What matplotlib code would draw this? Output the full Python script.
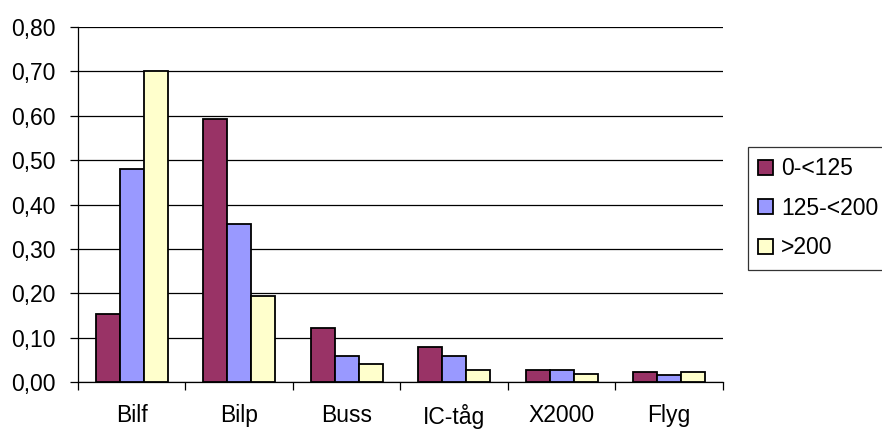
import matplotlib.pyplot as plt
import numpy as np

plt.rcParams['font.family'] = ['Liberation Sans', 'DejaVu Sans']

categories = ["Bilf", "Bilp", "Buss", "IC-tåg", "X2000", "Flyg"]
series_names = ["0-<125", "125-<200", ">200"]
v_low = [0.153, 0.593, 0.121, 0.080, 0.027, 0.022]
v_mid = [0.480, 0.355, 0.058, 0.058, 0.027, 0.016]
v_high = [0.700, 0.193, 0.040, 0.027, 0.017, 0.022]
yticks = [0.0, 0.1, 0.2, 0.3, 0.4, 0.5, 0.6, 0.7, 0.8]
ytick_labels = ["0,00", "0,10", "0,20", "0,30", "0,40", "0,50", "0,60", "0,70", "0,80"]

colors = ["#993366", "#9999FF", "#FFFFCC"]
fs = 16.5

fig = plt.figure(figsize=(8.82, 4.30), dpi=100)
ax = fig.add_axes([0.0884, 0.1116, 0.7313, 0.8256])

x = np.arange(len(categories))
w = 0.223
for i, vals in enumerate([v_low, v_mid, v_high]):
    ax.bar(x + (i - 1) * w, vals, width=w, color=colors[i], edgecolor="black",
           linewidth=1.3, label=series_names[i], zorder=3)

ax.set_xlim(-0.5, len(categories) - 0.5)
ax.set_ylim(0, 0.8)
ax.set_yticks(yticks)
ax.set_yticklabels(ytick_labels, fontsize=fs)
ax.yaxis.grid(True, color="black", linewidth=0.9, zorder=0)
ax.set_axisbelow(True)

ax.set_xticks(x)
ax.set_xticklabels(categories, fontsize=fs)
ax.tick_params(axis="x", which="major", length=0, pad=16)
ax.set_xticks(np.arange(len(categories) + 1) - 0.5, minor=True)
ax.tick_params(axis="x", which="minor", length=5.8, width=0.9, direction="out")
ax.tick_params(axis="y", length=5.8, width=0.9, direction="out", pad=10.5)

for s in ["top", "right"]:
    ax.spines[s].set_visible(False)
ax.spines["left"].set_linewidth(0.9)
ax.spines["bottom"].set_linewidth(0.9)

leg = ax.legend(loc="upper left", bbox_to_anchor=(0.848, 0.658), bbox_transform=fig.transFigure,
                fontsize=fs, frameon=True, fancybox=False, edgecolor="black",
                handlelength=0.65, handleheight=0.65, handletextpad=0.35,
                labelspacing=0.72, borderpad=0.45, borderaxespad=0)
leg.get_frame().set_linewidth(0.9)

fig.savefig("out.png", dpi=100)
